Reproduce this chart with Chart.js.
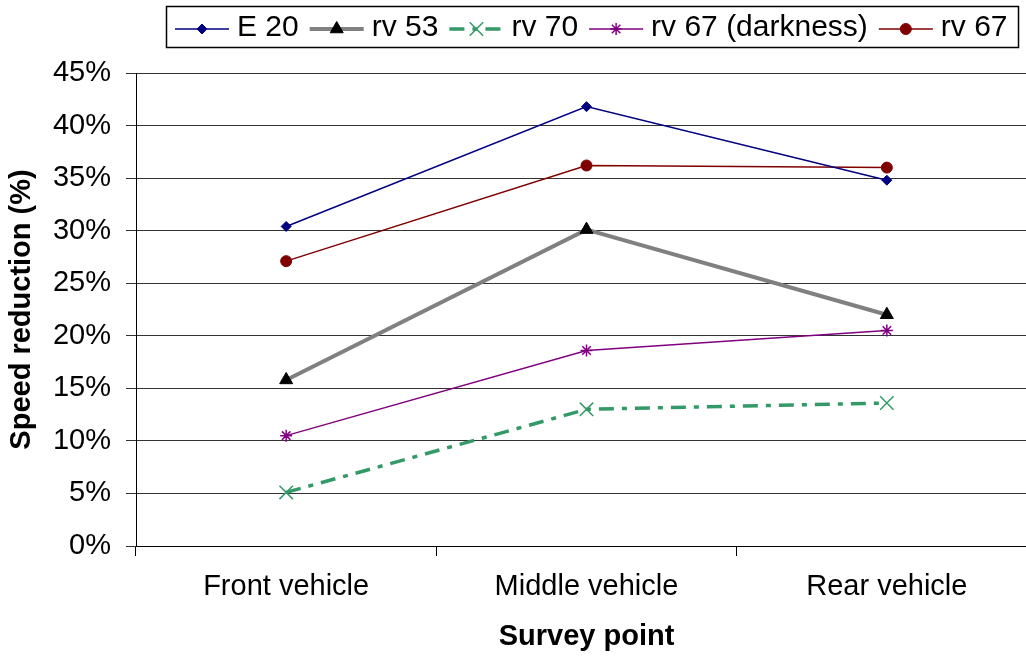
<!DOCTYPE html>
<html>
<head>
<meta charset="utf-8">
<script src="https://cdn.jsdelivr.net/npm/chart.js@4/dist/chart.umd.min.js"></script>
<style>
  html, body { margin: 0; padding: 0; background: #fff; overflow: hidden; }
  #wrap { width: 1048px; height: 657px; }
</style>
</head>
<body>
<div id="wrap"><canvas id="chart" width="1048" height="657"></canvas></div>
<script>
// Categories and series (speed reduction in %)
const surveyPoints = ["Front vehicle", "Middle vehicle", "Rear vehicle"];
const e20 = [30.4, 41.8, 34.8];
const rv53 = [15.8, 30.1, 22.0];
const rv70 = [5.1, 13.0, 13.6];
const rv67Dark = [10.5, 18.6, 20.5];
const rv67 = [27.1, 36.2, 36.0];
const seriesNames = ["E 20", "rv 53", "rv 70", "rv 67 (darkness)", "rv 67"];

const FONT = "'Liberation Sans', Arial, sans-serif";

// Legend drawn like the spreadsheet one: line sample with the marker in the middle
const boxedLegend = {
    id: "boxedLegend",
    afterDraw(chart) {
        const ctx = chart.ctx;
        const y = 28;
        let x = 175;
        ctx.save();
        ctx.font = "30px " + FONT;
        ctx.textBaseline = "middle";
        chart.data.datasets.forEach(ds => {
            // line sample
            ctx.beginPath();
            ctx.lineWidth = ds.borderWidth;
            ctx.strokeStyle = ds.borderColor;
            ctx.setLineDash(ds.borderDash || []);
            ctx.moveTo(x, y + 1);
            ctx.lineTo(x + 54, y + 1);
            ctx.stroke();
            ctx.setLineDash([]);
            // marker
            if (Chart.helpers && Chart.helpers.drawPoint) {
                ctx.fillStyle = ds.pointBackgroundColor;
                ctx.strokeStyle = ds.pointBorderColor;
                ctx.lineWidth = ds.pointBorderWidth;
                Chart.helpers.drawPoint(ctx, {
                    pointStyle: ds.pointStyle,
                    radius: ds.pointRadius,
                    rotation: 0,
                    borderWidth: ds.pointBorderWidth
                }, x + 27, y + 1);
            }
            // label
            ctx.fillStyle = "#000";
            ctx.fillText(ds.label, x + 62, y);
            x += 62 + ctx.measureText(ds.label).width + 11;
        });
        // frame
        ctx.lineWidth = 1.5;
        ctx.strokeStyle = "#000";
        ctx.strokeRect(166.5, 6.5, 852, 41);
        ctx.restore();
    }
};

new Chart(document.getElementById("chart"), {
    type: "line",
    data: {
        labels: surveyPoints,
        datasets: [
            {
                label: seriesNames[0],
                data: e20,
                borderColor: "#000080",
                borderWidth: 1.5,
                pointStyle: "rectRot",
                pointRadius: 5,
                pointBackgroundColor: "#000080",
                pointBorderColor: "#000080",
                pointBorderWidth: 1
            },
            {
                label: seriesNames[1],
                data: rv53,
                borderColor: "#808080",
                borderWidth: 4,
                pointStyle: "triangle",
                pointRadius: 7.5,
                pointBackgroundColor: "#000",
                pointBorderColor: "#000",
                pointBorderWidth: 1
            },
            {
                label: seriesNames[2],
                data: rv70,
                borderColor: "#339966",
                borderWidth: 3.5,
                borderDash: [15, 8, 5, 8],
                pointStyle: "crossRot",
                pointRadius: 9.5,
                pointBackgroundColor: "#339966",
                pointBorderColor: "#339966",
                pointBorderWidth: 1.5
            },
            {
                label: seriesNames[3],
                data: rv67Dark,
                borderColor: "#800080",
                borderWidth: 1.5,
                pointStyle: "star",
                pointRadius: 6,
                pointBackgroundColor: "#800080",
                pointBorderColor: "#800080",
                pointBorderWidth: 1.5
            },
            {
                label: seriesNames[4],
                data: rv67,
                borderColor: "#800000",
                borderWidth: 1.5,
                pointStyle: "circle",
                pointRadius: 5.5,
                pointBackgroundColor: "#800000",
                pointBorderColor: "#800000",
                pointBorderWidth: 1
            }
        ]
    },
    options: {
        responsive: false,
        animation: false,
        events: [],
        devicePixelRatio: 1,
        layout: { padding: { top: 73, right: 5, bottom: 0, left: 0 } },
        plugins: {
            legend: { display: false },
            tooltip: { enabled: false }
        },
        elements: { line: { tension: 0 } },
        scales: {
            x: {
                offset: true,
                afterFit: s => { s.height = 111; },
                grid: {
                    offset: true,
                    drawOnChartArea: false,
                    drawTicks: true,
                    tickLength: 10,
                    color: "#000"
                },
                border: { color: "#000", width: 1 },
                ticks: {
                    color: "#000",
                    padding: 14,
                    font: { family: FONT, size: 29 },
                    maxRotation: 0
                },
                title: {
                    display: true,
                    text: "Survey point",
                    color: "#000",
                    font: { family: FONT, size: 29, weight: "bold" },
                    padding: { top: 0, bottom: 3 }
                }
            },
            y: {
                min: 0,
                max: 45,
                afterFit: s => { s.width = 136; },
                grid: {
                    color: "#333",
                    lineWidth: 1,
                    tickLength: 10
                },
                border: { color: "#000", width: 1 },
                ticks: {
                    stepSize: 5,
                    color: "#000",
                    padding: 15,
                    font: { family: FONT, size: 29 },
                    callback: v => v + "%"
                },
                title: {
                    display: true,
                    text: "Speed reduction (%)",
                    color: "#000",
                    font: { family: FONT, size: 29, weight: "bold" },
                    padding: { top: 5, bottom: 0 }
                }
            }
        }
    },
    plugins: [boxedLegend]
});
</script>
</body>
</html>
